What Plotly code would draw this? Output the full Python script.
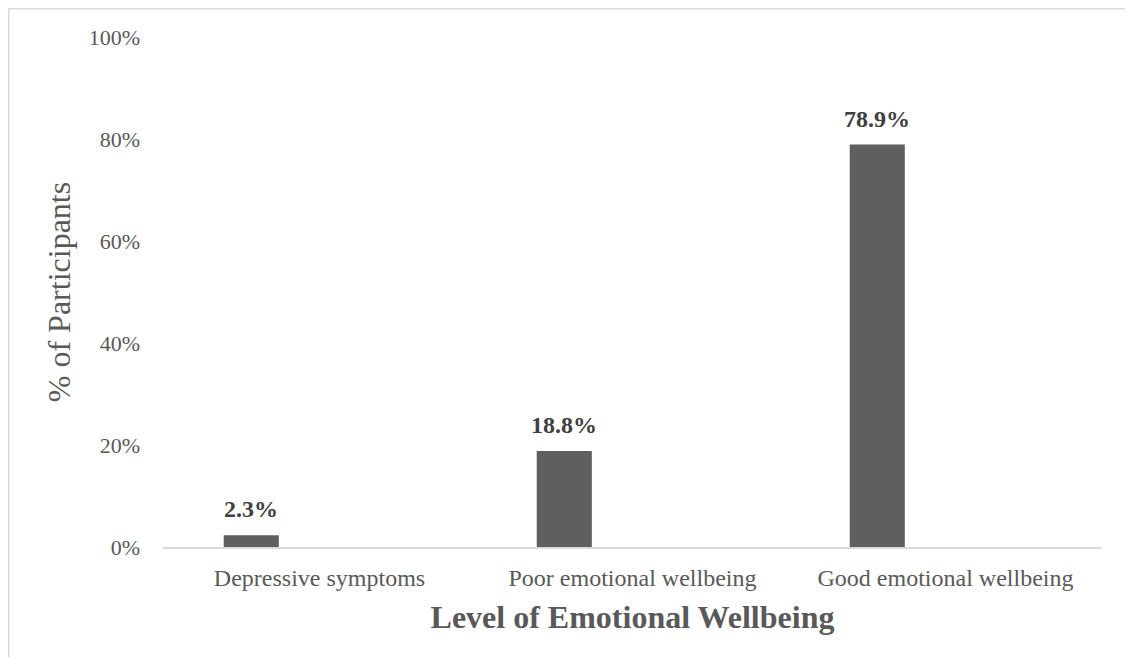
import plotly.graph_objects as go

categories = ["Depressive symptoms", "Poor emotional wellbeing", "Good emotional wellbeing"]
shares = [0.023, 0.188, 0.789]
labels = ["2.3%", "18.8%", "78.9%"]
y_ticks = [0, 0.2, 0.4, 0.6, 0.8, 1.0]

BAR = "#5f5f5f"
TXT = "#595959"
FONT = "Liberation Serif, Times New Roman, serif"

# bars sit left of the category centre, like the original spreadsheet chart
bar_w = 0.176
bar_off = -0.306

fig = go.Figure()
fig.add_trace(go.Bar(
    x=categories, y=shares,
    width=bar_w, offset=bar_off,
    marker=dict(color=BAR, line=dict(width=0)),
    hoverinfo="skip", showlegend=False
))

# value labels above each bar
for i, (v, t) in enumerate(zip(shares, labels)):
    fig.add_annotation(
        x=i + bar_off + bar_w / 2, y=v, text=f"<b>{t}</b>",
        showarrow=False, yanchor="bottom", yshift=11,
        font=dict(family=FONT, size=24, color="#404040")
    )

# page body adds an 8px margin, so the figure is a bit smaller than the window
W, H = 1117, 649
ml, mr, mt, mb = 155, 23, 29, 110
pw, ph = W - ml - mr, H - mt - mb

# chart frame: only the top and left edges show in the original
x_left = (0.5 - ml) / pw
y_top = (ph + mt - 0.5) / ph
frame = dict(color="#d9d9d9", width=2)

fig.update_layout(
    width=W, height=H,
    margin=dict(l=ml, r=mr, t=mt, b=mb),
    plot_bgcolor="white", paper_bgcolor="white",
    font=dict(family=FONT, color=TXT),
    xaxis=dict(
        type="category", range=[-0.5, 2.5],
        showline=True, linecolor="#d9d9d9", linewidth=2,
        showgrid=False, zeroline=False, ticks="",
        tickfont=dict(size=24, color=TXT), ticklabelstandoff=8,
        title=dict(text="<b>Level of Emotional Wellbeing</b>",
                   font=dict(size=32, color=TXT), standoff=16),
    ),
    yaxis=dict(
        range=[0, 1], tickvals=y_ticks, tickformat=".0%",
        showgrid=False, zeroline=False, showline=False, ticks="",
        tickfont=dict(size=22, color=TXT), ticklabelstandoff=22,
        title=dict(text="% of Participants",
                   font=dict(size=32, color=TXT), standoff=8),
    ),
    shapes=[
        dict(type="line", xref="paper", yref="paper",
             x0=x_left, x1=(W - ml) / pw, y0=y_top, y1=y_top,
             line=frame, layer="below"),
        dict(type="line", xref="paper", yref="paper",
             x0=x_left, x1=x_left, y0=-mb / ph, y1=y_top,
             line=frame, layer="below"),
    ],
)

fig.write_html("out.html")
